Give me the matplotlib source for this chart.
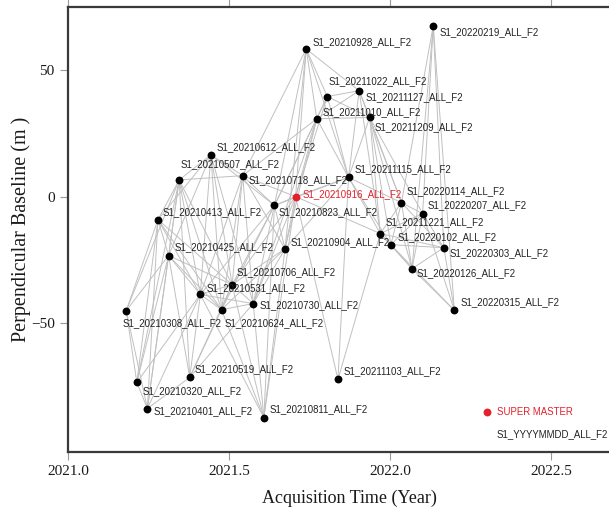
#!/usr/bin/env python3

import datetime as dt
import matplotlib
matplotlib.use("Agg")
import matplotlib.pyplot as plt

# acquisition dates and perpendicular baselines (m)
dates = ["20210308", "20210320", "20210401", "20210413", "20210425", "20210507",
         "20210519", "20210531", "20210612", "20210624", "20210706", "20210718",
         "20210730", "20210811", "20210823", "20210904", "20210916", "20210928",
         "20211010", "20211022", "20211103", "20211115", "20211127", "20211209",
         "20211221", "20220102", "20220114", "20220126", "20220207", "20220219",
         "20220303", "20220315"]
baselines = [-45.1, -73.5, -83.8, -9.1, -23.3, 6.6,
             -71.5, -38.7, 16.5, -44.7, -34.8, 8.3,
             -42.3, -87.4, -3.5, -20.6, 0.0, 58.4,
             30.8, 39.6, -72.3, 7.6, 41.9, 31.3,
             -14.6, -19.0, -2.4, -28.5, -6.7, 67.6,
             -20.2, -45.0]
super_master = "20210916"

# interferometric pairs
pairs = [
    ("20210308", "20210320"), ("20210308", "20210401"), ("20210308", "20210413"),
    ("20210308", "20210425"), ("20210308", "20210507"),
    ("20210320", "20210401"), ("20210320", "20210413"), ("20210320", "20210425"),
    ("20210320", "20210507"), ("20210320", "20210531"),
    ("20210401", "20210413"), ("20210401", "20210425"), ("20210401", "20210507"),
    ("20210401", "20210519"), ("20210401", "20210531"),
    ("20210413", "20210425"), ("20210413", "20210507"), ("20210413", "20210531"),
    ("20210413", "20210612"), ("20210413", "20210624"), ("20210413", "20210706"),
    ("20210425", "20210507"), ("20210425", "20210519"), ("20210425", "20210531"),
    ("20210425", "20210612"), ("20210425", "20210624"), ("20210425", "20210706"),
    ("20210507", "20210519"), ("20210507", "20210531"), ("20210507", "20210612"),
    ("20210507", "20210624"), ("20210507", "20210706"), ("20210507", "20210718"),
    ("20210519", "20210531"), ("20210519", "20210624"), ("20210519", "20210706"),
    ("20210519", "20210730"),
    ("20210531", "20210612"), ("20210531", "20210624"), ("20210531", "20210706"),
    ("20210531", "20210718"), ("20210531", "20210730"), ("20210531", "20210811"),
    ("20210531", "20210823"),
    ("20210612", "20210624"), ("20210612", "20210706"), ("20210612", "20210718"),
    ("20210612", "20210730"), ("20210612", "20210823"),
    ("20210624", "20210706"), ("20210624", "20210718"), ("20210624", "20210730"),
    ("20210624", "20210811"), ("20210624", "20210823"), ("20210624", "20210904"),
    ("20210706", "20210718"), ("20210706", "20210730"), ("20210706", "20210811"),
    ("20210706", "20210823"), ("20210706", "20210904"), ("20210706", "20210916"),
    ("20210718", "20210730"), ("20210718", "20210823"), ("20210718", "20210904"),
    ("20210718", "20210916"), ("20210718", "20210928"), ("20210718", "20211010"),
    ("20210730", "20210811"), ("20210730", "20210823"), ("20210730", "20210904"),
    ("20210730", "20210916"), ("20210730", "20211010"),
    ("20210811", "20210823"), ("20210811", "20210904"), ("20210811", "20210916"),
    ("20210823", "20210904"), ("20210823", "20210916"), ("20210823", "20210928"),
    ("20210823", "20211010"), ("20210823", "20211022"), ("20210823", "20211115"),
    ("20210904", "20210916"), ("20210904", "20210928"), ("20210904", "20211010"),
    ("20210904", "20211115"),
    ("20210916", "20210928"), ("20210916", "20211010"), ("20210916", "20211022"),
    ("20210916", "20211103"), ("20210916", "20211115"), ("20210916", "20211221"),
    ("20210928", "20211010"), ("20210928", "20211022"), ("20210928", "20211115"),
    ("20210928", "20211127"),
    ("20211010", "20211022"), ("20211010", "20211115"), ("20211010", "20211127"),
    ("20211010", "20211209"),
    ("20211022", "20211115"), ("20211022", "20211127"), ("20211022", "20211209"),
    ("20211103", "20211115"), ("20211103", "20211221"),
    ("20211115", "20211127"), ("20211115", "20211209"), ("20211115", "20211221"),
    ("20211115", "20220102"), ("20211115", "20220114"),
    ("20211127", "20211209"), ("20211127", "20211221"), ("20211127", "20220114"),
    ("20211209", "20211221"), ("20211209", "20220102"), ("20211209", "20220114"),
    ("20211209", "20220126"), ("20211209", "20220207"),
    ("20211221", "20220102"), ("20211221", "20220114"), ("20211221", "20220126"),
    ("20211221", "20220207"), ("20211221", "20220303"),
    ("20220102", "20220114"), ("20220102", "20220126"), ("20220102", "20220207"),
    ("20220102", "20220303"), ("20220102", "20220315"),
    ("20220114", "20220126"), ("20220114", "20220207"), ("20220114", "20220219"),
    ("20220114", "20220303"),
    ("20220126", "20220207"), ("20220126", "20220219"), ("20220126", "20220303"),
    ("20220126", "20220315"),
    ("20220207", "20220219"), ("20220207", "20220303"), ("20220207", "20220315"),
    ("20220219", "20220303"), ("20220219", "20220315"),
    ("20220303", "20220315"),
]

# label placement (pixels right, pixels down from the dot)
label_offset = {
    "20210308": (-4, 12), "20210320": (6, 9), "20210401": (6, 3),
    "20210413": (5, -8), "20210425": (6, -8), "20210507": (1, -16),
    "20210519": (5, -8), "20210531": (6, -6), "20210612": (6, -8),
    "20210624": (3, 13), "20210706": (4, -12), "20210718": (6, 4),
    "20210730": (6, 2), "20210811": (6, -8), "20210823": (4, 7),
    "20210904": (6, -7), "20210916": (7, -3), "20210928": (6, -7),
    "20211010": (6, -7), "20211022": (1, -15), "20211103": (6, -8),
    "20211115": (6, -8), "20211127": (6, 6), "20211209": (5, 10),
    "20211221": (5, -11), "20220102": (7, -8), "20220114": (5, -12),
    "20220126": (5, 4), "20220207": (5, -8), "20220219": (6, 6),
    "20220303": (6, 5), "20220315": (6, -8),
}

RED = "#e3202b"
LABEL_FONT = ["Liberation Sans", "DejaVu Sans"]
LABEL_SIZE = 6.9
SERIF = ["Liberation Serif", "DejaVu Serif"]


def decimal_year(s):
    d = dt.datetime.strptime(s, "%Y%m%d")
    doy = d.timetuple().tm_yday
    return d.year + (doy - 1) / 365.0


def main():
    t = {d: decimal_year(d) for d in dates}
    b = dict(zip(dates, baselines))

    fig = plt.figure(figsize=(6.09, 5.16), dpi=100)
    ax = fig.add_axes([68 / 609, 64 / 516, 563.5 / 609, 445 / 516])

    # connections
    for d1, d2 in pairs:
        ax.plot([t[d1], t[d2]], [b[d1], b[d2]], color="#c0c0c0", lw=0.7,
                zorder=1, solid_capstyle="round")

    # acquisitions
    for d in dates:
        is_master = d == super_master
        ax.scatter(t[d], b[d], s=32, color=RED if is_master else "black",
                   zorder=3, linewidths=0)
        dx, dy = label_offset[d]
        ax.annotate("S1_%s_ALL_F2" % d, (t[d], b[d]), xytext=(dx, -dy),
                    textcoords="offset pixels", ha="left", va="center",
                    fontsize=LABEL_SIZE, family=LABEL_FONT,
                    color=RED if is_master else "#222222", zorder=4)

    # legend
    ax.scatter([0.7436], [0.0899], s=32, color=RED, linewidths=0,
               transform=ax.transAxes, clip_on=False, zorder=3)
    ax.text(0.7605, 0.0899, "SUPER MASTER", transform=ax.transAxes,
            ha="left", va="center", fontsize=LABEL_SIZE, family=LABEL_FONT,
            color=RED)
    ax.text(0.7605, 0.0405, "S1_YYYYMMDD_ALL_F2", transform=ax.transAxes,
            ha="left", va="center", fontsize=LABEL_SIZE, family=LABEL_FONT,
            color="#222222")

    ax.set_xlim(2021.0, 2022.75)
    ax.set_ylim(-101, 75)
    ax.set_xticks([2021.0, 2021.5, 2022.0, 2022.5])
    ax.set_xticklabels(["2021.0", "2021.5", "2022.0", "2022.5"])
    ax.set_yticks([-50, 0, 50])
    ax.set_yticklabels(["\u221250", "0", "50"])
    ax.tick_params(axis="both", direction="out", length=6, width=0.8,
                   color="#9a9a9a", labelsize=11, top=True)
    for lab in ax.get_xticklabels() + ax.get_yticklabels():
        lab.set_family(SERIF)
        lab.set_color("#1a1a1a")
    for side in ("left", "bottom", "top", "right"):
        ax.spines[side].set_color("#3a3a3a")
        ax.spines[side].set_linewidth(1.6)

    ax.set_xlabel("Acquisition Time (Year)", family=SERIF, fontsize=13,
                  color="#1a1a1a", labelpad=8)
    ax.set_ylabel("Perpendicular Baseline (m )", family=SERIF, fontsize=14.5,
                  color="#1a1a1a", labelpad=0)

    fig.savefig("out.png", dpi=100)


if __name__ == "__main__":
    main()
